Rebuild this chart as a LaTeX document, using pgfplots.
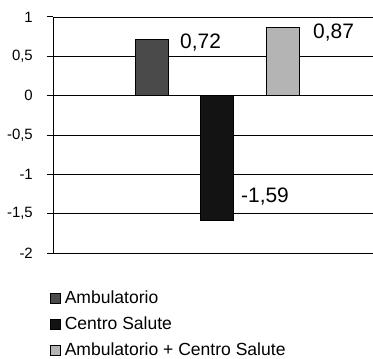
\documentclass[border=0pt]{standalone}
\usepackage{pgfplots}
\pgfplotsset{compat=1.18}
\usepackage{fontspec}
\setmainfont{Liberation Sans}

\definecolor{barA}{HTML}{4A4A4A}
\definecolor{barB}{HTML}{131313}
\definecolor{barC}{HTML}{B4B4B4}

\begin{document}
\begin{tikzpicture}
\begin{axis}[
  scale only axis,
  width=320bp, height=236bp,
  xmin=0, xmax=320,
  ymin=-2, ymax=1,
  axis x line=none,
  axis y line*=left,
  axis line style={black, line width=1bp, -},
  ytick={-2,-1.5,...,1},
  yticklabels={{-2},{-1,5},{-1},{-0,5},{0},{0,5},{1}},
  tick align=outside,
  major tick length=6bp,
  tick style={black, line width=1bp},
  y tick label style={font=\fontsize{15}{18}\selectfont, inner sep=0pt, anchor=east, xshift=-14bp},
  ymajorgrids,
  grid style={black, line width=0.7bp},
  ybar, bar shift=0pt, bar width=33,
  clip=false,
  legend cell align=left,
  legend image code/.code={\draw[#1, draw=black, line width=0.6bp] (0bp,-5bp) rectangle (10bp,5bp);},
  legend style={draw=none, fill=none, at={(rel axis cs:-0.0094,-0.1547)}, anchor=north west,
    inner sep=0pt, row sep=8bp, column sep=3bp,
    font=\fontsize{17.6}{20}\selectfont,
    nodes={text height=12.5bp, text depth=3.5bp, inner sep=1bp}},
]
\addplot[fill=barA, draw=black, line width=0.8bp] coordinates {(98.5,0.72)};
\addlegendentry{Ambulatorio}
\addplot[fill=barB, draw=black, line width=0.8bp] coordinates {(164,-1.59)};
\addlegendentry{Centro Salute}
\addplot[fill=barC, draw=black, line width=0.8bp] coordinates {(229.5,0.87)};
\addlegendentry{Ambulatorio + Centro Salute}

% value labels beside each bar
\node[anchor=west, inner sep=0pt, font=\fontsize{21}{24}\selectfont] at (axis cs:127,0.72) [yshift=-4bp] {0,72};
\node[anchor=west, inner sep=0pt, font=\fontsize{21}{24}\selectfont] at (axis cs:260,0.87) [yshift=-5bp] {0,87};
\node[anchor=west, inner sep=0pt, font=\fontsize{21}{24}\selectfont] at (axis cs:188,-1.59) [yshift=24bp] {-1,59};
\end{axis}
\pgfresetboundingbox
\path (-53bp,-106bp) rectangle (320bp,253bp);
\end{tikzpicture}
\end{document}
